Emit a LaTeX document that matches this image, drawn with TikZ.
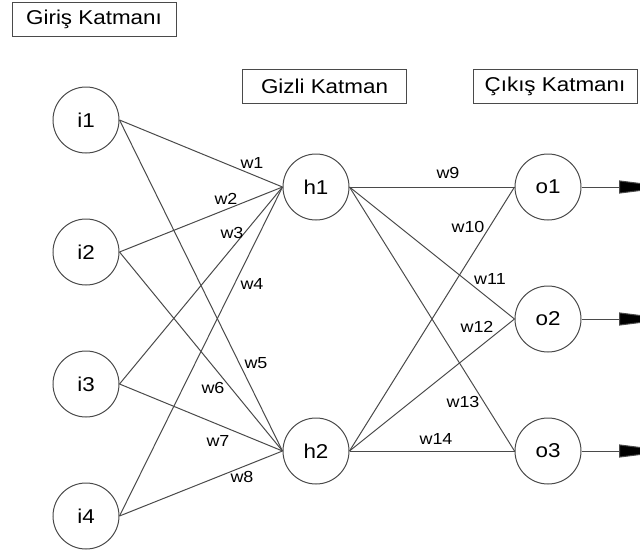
\documentclass[tikz,border=0pt]{standalone}
\usepackage{fontspec}
\setmainfont[FakeStretch=1.12]{Liberation Sans}
\usetikzlibrary{arrows.meta}
\definecolor{ln}{HTML}{4A4A4A}
\begin{document}
\begin{tikzpicture}[x=1pt,y=-1pt,
  neuron/.style={circle,draw=ln,line width=1pt,minimum size=66pt,inner sep=0pt,font=\fontsize{20}{22}\selectfont},
  layerbox/.style={draw=ln,line width=1pt,minimum width=164pt,minimum height=34pt,inner sep=0pt,font=\fontsize{20}{22}\selectfont},
  wt/.style={font=\fontsize{16}{18}\selectfont,inner sep=0pt},
  conn/.style={draw=ln,line width=1pt},
  outarrow/.style={draw=ln,line width=1pt,-{Triangle[length=53pt,width=13pt,fill=black]}}]
\useasboundingbox (0,0) rectangle (640,549);
\node[layerbox] (lin) at (94,19.5) {Giriş Katmanı};
\node[layerbox] (lhid) at (324.5,86) {Gizli Katman};
\node[layerbox] (lout) at (555,86) {Çıkış Katmanı};
\node[neuron] (i1) at (86,120) {i1};
\node[neuron] (i2) at (86,252) {i2};
\node[neuron] (i3) at (86,384) {i3};
\node[neuron] (i4) at (86,516) {i4};
\node[neuron] (h1) at (316,187) {h1};
\node[neuron] (h2) at (316,451) {h2};
\node[neuron] (o1) at (548,187) {o1};
\node[neuron] (o2) at (548,319) {o2};
\node[neuron] (o3) at (548,451) {o3};
\foreach \i in {i1,i2,i3,i4}{
  \draw[conn] (\i.east) -- (h1.west);
  \draw[conn] (\i.east) -- (h2.west);
}
\foreach \h in {h1,h2}{
  \foreach \o in {o1,o2,o3}{
    \draw[conn] (\h.east) -- (\o.west);
  }
}
\coordinate (t1) at (672,187);
\coordinate (t2) at (672,319);
\coordinate (t3) at (672,451);
\draw[outarrow] (o1.east) -- (t1);
\draw[outarrow] (o2.east) -- (t2);
\draw[outarrow] (o3.east) -- (t3);
\node[wt] (w1) at (252,163) {w1};
\node[wt] (w2) at (226,199) {w2};
\node[wt] (w3) at (232,233) {w3};
\node[wt] (w4) at (252,284) {w4};
\node[wt] (w5) at (256,363) {w5};
\node[wt] (w6) at (213,388) {w6};
\node[wt] (w7) at (218,441) {w7};
\node[wt] (w8) at (242,477) {w8};
\node[wt] (w9) at (448,173) {w9};
\node[wt] (w10) at (468,227) {w10};
\node[wt] (w11) at (490,279) {w11};
\node[wt] (w12) at (477,327) {w12};
\node[wt] (w13) at (463,402) {w13};
\node[wt] (w14) at (436,439) {w14};
\end{tikzpicture}
\end{document}
